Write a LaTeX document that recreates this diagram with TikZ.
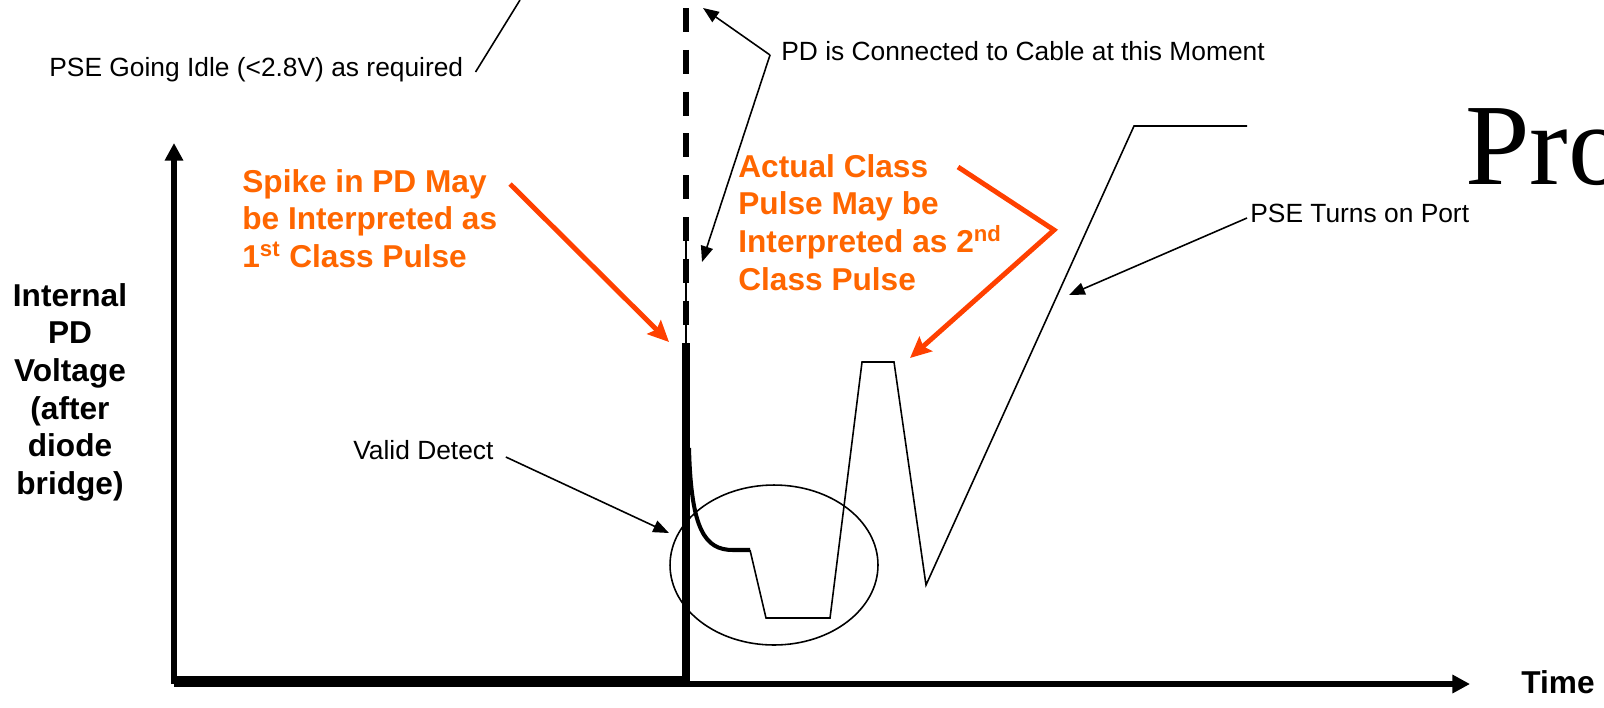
\documentclass[tikz,border=0pt]{standalone}
\usepackage{fontspec}
\setmainfont{Liberation Sans}
\newfontfamily\titrefont{Liberation Serif}
\usepackage{xcolor}
\usepackage{tikz}
\usetikzlibrary{arrows.meta,calc}
\definecolor{orangeTexte}{RGB}{255,102,0}
\definecolor{rougeFleche}{RGB}{255,64,0}
\tikzset{
Axe/.style={
 draw=black, 
 line width=3.2pt, 
 -{Triangle[length=10pt,width=10pt]}
 },
Renvoi/.style={
 draw=black, 
 line width=0.9pt, 
 -{Triangle[length=9pt,width=7pt]}
 },
Trait/.style={
 draw=black, 
 line width=0.9pt
 },
RFleche/.style={
 draw=rougeFleche, 
 line width=2.8pt, 
 -{Stealth[length=12pt,width=11pt,inset=2pt]}
 },
Legende/.style={
 inner sep=0pt, 
 anchor=base west, 
 font=\fontsize{15}{18}\selectfont
 },
OLegende/.style={
 inner sep=0pt, 
 anchor=north west, 
 align=left, 
 text=orangeTexte, 
 font=\fontsize{18}{21.4}\selectfont\bfseries
 }
}
\begin{document}
\begin{tikzpicture}[x=0.02cm,y=-0.02cm]
\useasboundingbox (0,0) rectangle (1604,707);
\coordinate (O) at (174,684);
\coordinate (yHaut) at (174,143);
\coordinate (xFin) at (1470,684);
\draw[Axe] (O) -- (yHaut);
\draw[Axe] (O) -- (xFin);
\draw[line width=5.7pt] (174,681) -- (690,681);
\draw[line width=4.5pt] (686,343) -- (686,681);
\draw[line width=3.4pt,dash pattern=on 13.6pt off 10.2pt] (686,8) -- (686,343);
\draw[Trait] (686,240) -- (686,343);
\draw[line width=2.3pt] (689,448) .. controls (691,530) and (705,550) .. (733,550) -- (750,550);
\draw[Trait] (750,550) -- (766,618) -- (830,618) -- (862,362) -- (894,362) -- (926,585) -- (1134,126) -- (1247,126);
\draw[Trait] (774,565) ellipse [x radius=2.08cm,y radius=1.6cm];
\node[inner sep=0pt,anchor=north,align=center,font=\fontsize{18}{21.4}\selectfont\bfseries] (ordonnee) at (70,283) {Internal\\PD\\Voltage\\(after\\diode\\bridge)};
\node[inner sep=0pt,anchor=base west,font=\fontsize{18}{21.4}\selectfont\bfseries] (temps) at (1521,693) {Time};
\node[inner sep=0pt,anchor=base west,font=\titrefont\fontsize{66}{70}\selectfont] (titre) at (1465,184) {Pro};
\node[Legende] (repos) at (49,76) {PSE Going Idle (<2.8V) as required};
\coordinate (reposHaut) at (520,0);
\draw[Trait] ($(repos.base east)+(12,-4)$) -- (reposHaut);
\node[Legende] (cable) at (781,60) {PD is Connected to Cable at this Moment};
\coordinate (fourche) at ($(cable.base west)+(-11,-5)$);
\coordinate (cableHaut) at (703,8);
\coordinate (cableMilieu) at (702,262);
\draw[Renvoi] (fourche) -- (cableHaut);
\draw[Renvoi] (fourche) -- (cableMilieu);
\node[Legende] (valide) at (353,459) {Valid Detect};
\coordinate (valideBout) at (669,533);
\draw[Renvoi] ($(valide.base east)+(12,-2)$) -- (valideBout);
\node[Legende] (port) at (1250,222) {PSE Turns on Port};
\coordinate (portBout) at (1069,295);
\draw[Renvoi] ($(port.base west)+(-3,-4)$) -- (portBout);
\node[OLegende] (pic) at (242,169) {Spike in PD May\\be Interpreted as\\1\textsuperscript{st} Class Pulse};
\coordinate (picDepart) at (510,184);
\coordinate (picBout) at (669,342);
\draw[RFleche] (picDepart) -- (picBout);
\node[OLegende] (vraie) at (738,154) {Actual Class\\Pulse May be\\Interpreted as 2\textsuperscript{nd}\\Class Pulse};
\coordinate (vraieDepart) at (958,167);
\coordinate (vraieCoin) at (1054,230);
\coordinate (vraieBout) at (910,358);
\draw[RFleche] (vraieDepart) -- (vraieCoin) -- (vraieBout);
\end{tikzpicture}
\end{document}
